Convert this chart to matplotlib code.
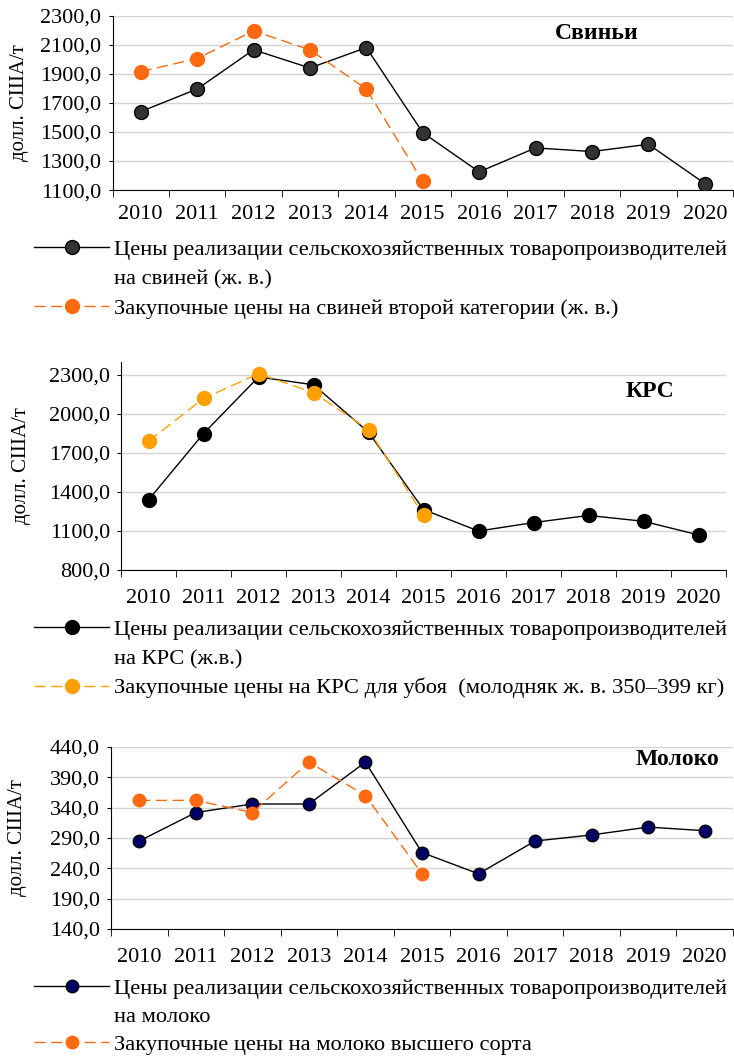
import numpy as np
import matplotlib.pyplot as plt
from matplotlib.lines import Line2D
from matplotlib.ticker import FuncFormatter

plt.rcParams['font.family'] = ['Liberation Serif', 'DejaVu Serif']

years = ['2010', '2011', '2012', '2013', '2014', '2015', '2016', '2017', '2018', '2019', '2020']

pigs_sales = [1640, 1795, 2065, 1940, 2080, 1495, 1225, 1390, 1365, 1415, 1145]
pigs_purchase = [1915, 2005, 2195, 2065, 1795, 1160]

cattle_sales = [1340, 1850, 2285, 2225, 1860, 1265, 1100, 1165, 1220, 1175, 1070]
cattle_purchase = [1790, 2120, 2310, 2165, 1880, 1220]

milk_sales = [285, 332, 346, 346, 415, 266, 231, 285, 295, 308, 302]
milk_purchase = [352, 352, 332, 415, 360, 231]

panels = [
    dict(title='Свиньи', sales=pigs_sales, purch=pigs_purchase,
         ylim=(1100, 2300), ticks=np.arange(1100, 2301, 200),
         rect=[0.1533, 0.8202, 0.8453, 0.1650], face='#333333', orange='#FF6A10',
         lab1a='Цены реализации сельскохозяйственных товаропроизводителей',
         lab1b='на свиней (ж. в.)',
         lab2='Закупочные цены на свиней второй категории (ж. в.)',
         title_xy=(0.78, 0.9), leg_y=0.774, ms=10, ylab_x=-0.135, xpad=11, lsp=0.4),
    dict(title='КРС', sales=cattle_sales, purch=cattle_purchase,
         ylim=(800, 2400), ticks=np.arange(800, 2301, 300),
         rect=[0.1649, 0.4607, 0.8242, 0.1968], face='#000000', orange='#FFA000',
         lab1a='Цены реализации сельскохозяйственных товаропроизводителей',
         lab1b='на КРС (ж.в.)',
         lab2='Закупочные цены на КРС для убоя  (молодняк ж. в. 350–399 кг)',
         title_xy=(0.875, 0.86), leg_y=0.4143, ms=10, ylab_x=-0.149, xpad=14, lsp=0.38),
    dict(title='Молоко', sales=milk_sales, purch=milk_purchase,
         ylim=(140, 440), ticks=np.arange(140, 441, 50),
         rect=[0.1512, 0.1211, 0.8474, 0.1722], face='#000066', orange='#FF6A10',
         lab1a='Цены реализации сельскохозяйственных товаропроизводителей',
         lab1b='на молоко',
         lab2='Закупочные цены на молоко высшего сорта',
         title_xy=(0.91, 0.93), leg_y=0.0748, ms=9, ylab_x=-0.135, xpad=14, lsp=0.32),
]

fig = plt.figure(figsize=(7.34, 10.57), dpi=100)
x = np.arange(len(years))

for p in panels:
    ax = fig.add_axes(p['rect'])
    l1, = ax.plot(x, p['sales'], color='black', lw=1, marker='o', ms=p['ms'],
                  mfc=p['face'], mec='black', mew=1, zorder=3)
    l2, = ax.plot(x[:len(p['purch'])], p['purch'], color=p['orange'], lw=1,
                  ls=(0, (8, 4)), marker='o', ms=p['ms'], mfc=p['orange'],
                  mec=p['orange'], zorder=4)
    ax.set_xlim(-0.5, len(years) - 0.5)
    ax.set_ylim(*p['ylim'])
    ax.set_yticks(p['ticks'])
    ax.yaxis.set_major_formatter(FuncFormatter(lambda v, pos: f'{v:.1f}'.replace('.', ',')))
    ax.set_xticks(x)
    ax.set_xticklabels(years)
    ax.set_xticks(np.arange(-0.5, len(years)), minor=True)
    ax.tick_params(axis='x', which='major', length=0, labelsize=16, pad=p['xpad'])
    ax.tick_params(axis='x', which='minor', length=5, direction='out')
    ax.tick_params(axis='y', labelsize=16, length=3, pad=5)
    ax.grid(axis='y', color='#d4d4d4', lw=1)
    ax.set_axisbelow(True)
    for s in ['top', 'right']:
        ax.spines[s].set_visible(False)
    ax.set_ylabel('долл. США/т', fontsize=15)
    ax.yaxis.set_label_coords(p['ylab_x'], 0.5)
    ax.text(p['title_xy'][0], p['title_xy'][1], p['title'], transform=ax.transAxes,
            fontsize=17, fontweight='bold', ha='center', va='center')

    blank = Line2D([], [], ls='none')
    fig.legend([l1, blank, l2], [p['lab1a'], p['lab1b'], p['lab2']], loc='upper left',
               bbox_to_anchor=(0.047, p['leg_y']), frameon=False, fontsize=16.2,
               handlelength=3.33, handletextpad=0.22, labelspacing=p['lsp'],
               borderaxespad=0, borderpad=0)

fig.savefig('out.png', dpi=100)
